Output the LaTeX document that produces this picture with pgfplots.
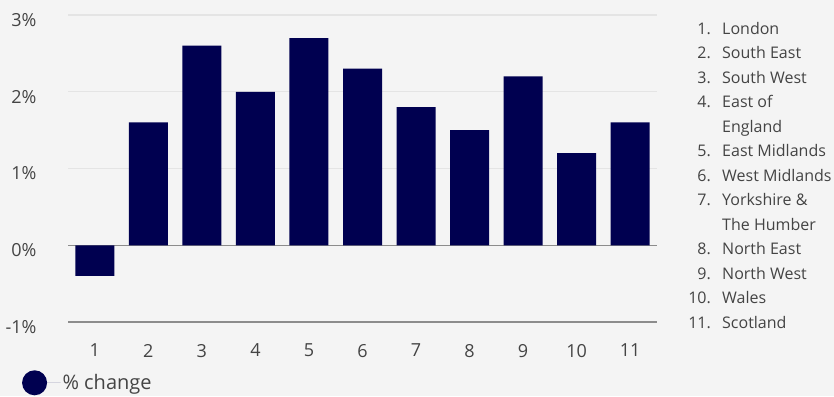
\documentclass[border=0pt]{standalone}
\usepackage{pgfplots}
\pgfplotsset{compat=1.18}
\usepackage{fontspec}
\setmainfont{Open Sans}
\definecolor{bg}{HTML}{F4F4F4}
\definecolor{navy}{HTML}{000050}
\definecolor{txt}{HTML}{444444}
\definecolor{gridc}{HTML}{E4E4E4}
\definecolor{zero}{HTML}{8C8C8C}
\begin{document}
\fontsize{16}{19}\selectfont
\begin{tikzpicture}[x=1pt,y=1pt]
\fill[bg] (0,0) rectangle (834,396);
\useasboundingbox (0,0) rectangle (834,396);
\begin{axis}[
  at={(68pt,74pt)}, anchor=south west,
  scale only axis, width=589pt, height=307pt,
  xmin=0.5, xmax=11.5, ymin=-1, ymax=3,
  axis line style={draw=none},
  major tick length=0pt,
  xtick={1,2,3,4,5,6,7,8,9,10,11},
  ytick={1,2,3}, yticklabels={1\%,2\%,3\%},
  extra y ticks={-1,0}, extra y tick labels={-1\%,0\%},
  extra y tick style={grid style={zero,line width=1.3pt}},
  ymajorgrids, grid style={gridc,line width=1.2pt},
  /pgf/number format/assume math mode=true,
  ticklabel style={font=\fontsize{18}{21}\selectfont, text=txt},
  xticklabel style={yshift=-16.5pt},
  yticklabel style={xshift=-26pt,yshift=-5pt},
  legend style={at={(axis description cs:-0.0783,-0.198)}, anchor=west, draw=none, fill=none,
    font=\fontsize{20}{24}\selectfont, text=txt, inner sep=0pt},
  legend image code/.code={\fill[navy] (0pt,0pt) circle (12.5pt);\path (0pt,0pt) -- (26pt,0pt);},
]
\addplot[ybar, fill=navy, draw=none, bar width=39pt] coordinates {
 (1,-0.4) (2,1.6) (3,2.6) (4,2.0) (5,2.7) (6,2.3) (7,1.8) (8,1.5) (9,2.2) (10,1.2) (11,1.6)};
\addlegendentry{\% change}
\end{axis}
\begin{scope}[every node/.style={inner sep=0pt, text=txt, font=\fontsize{16}{19}\selectfont}]
\foreach \n/\t/\b in {1./London/34.3, 2./South East/58.8, 3./South West/83.3, 4./East of/107.8, /England/132.3, 5./East Midlands/156.8, 6./West Midlands/181.3, 7./Yorkshire \&/205.8, /The Humber/230.3, 8./North East/254.8, 9./North West/279.3, 10./Wales/303.8, 11./Scotland/328.3}{
  \node[anchor=base east] at (711,396-\b) {\n};
  \node[anchor=base west] at (722,396-\b) {\t};
}
\end{scope}
\end{tikzpicture}
\end{document}
